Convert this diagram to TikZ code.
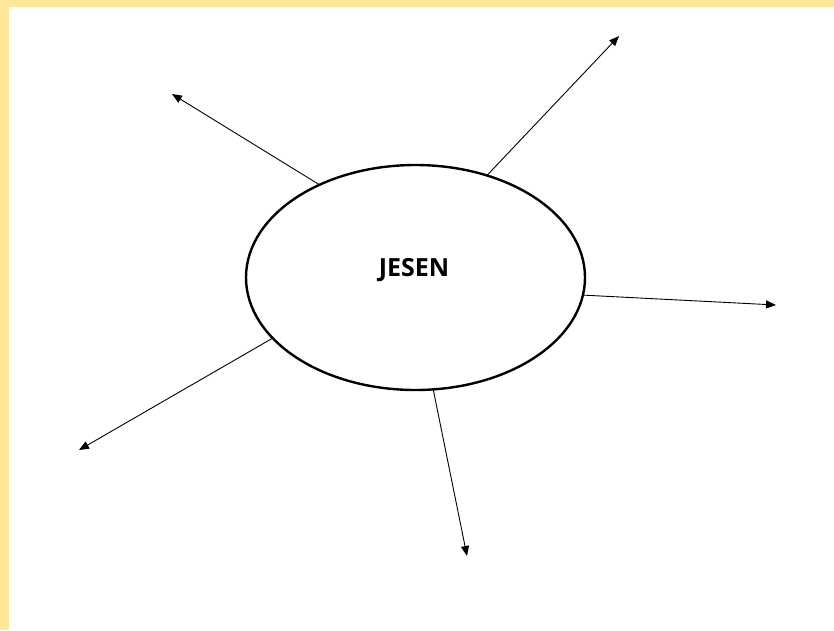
\documentclass[tikz,border=0pt]{standalone}
\usepackage{fontspec}
\setmainfont{Open Sans}
\usetikzlibrary{arrows.meta,shapes.geometric}
\definecolor{frameyellow}{HTML}{FFE699}
\begin{document}
\begin{tikzpicture}[x=1pt,y=-1pt,
  ray/.style={line width=0.9pt,-{Triangle[length=10pt,width=8pt]}},
  centre/.style={ellipse,draw,line width=2.4pt,inner sep=0pt,outer sep=0pt,
    minimum width=339pt,minimum height=225pt},
  title/.style={font=\bfseries\fontsize{25}{29}\selectfont,inner sep=0pt}]
\useasboundingbox (0,0) rectangle (834,630);
\fill[frameyellow] (0,0) rectangle (834,630);
\fill[white] (9,7) rectangle (834,630);
\node[centre] (e) at (415.5,277.5) {};
\node[title] (lab) at (414,270) {JESEN};
\coordinate (t1) at (172,94);
\coordinate (t2) at (619,36);
\coordinate (t3) at (776,305);
\coordinate (t4) at (79,450);
\coordinate (t5) at (467,556);
\draw[ray] (e.136.2) -- (t1);
\draw[ray] (e.55.7) -- (t2);
\draw[ray] (e.-6.9) -- (t3);
\draw[ray] (e.203.6) -- (t4);
\draw[ray] (e.-81.2) -- (t5);
\end{tikzpicture}
\end{document}
